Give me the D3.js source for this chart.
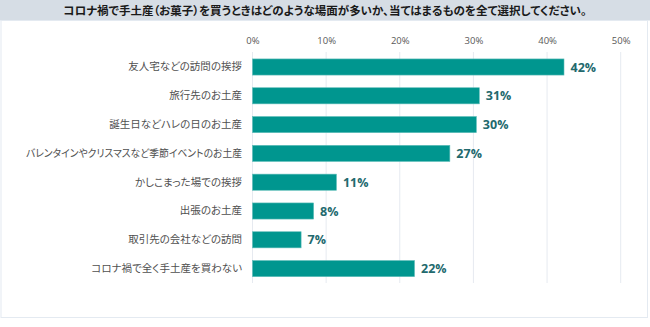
<!DOCTYPE html>
<html><head><meta charset="utf-8">
<script src="https://cdn.jsdelivr.net/npm/d3@7"></script>
<style>
html,body{margin:0;padding:0;background:#fff;}
svg{display:block;}
.cjk{font-family:"Noto Sans CJK JP","Noto Sans",sans-serif;font-feature-settings:"palt";}
</style></head>
<body>
<script>
const title = "コロナ禍で手土産（お菓子）を買うときはどのような場面が多いか、当てはまるものを全て選択してください。";
const categories = ["友人宅などの訪問の挨拶","旅行先のお土産","誕生日などハレの日のお土産","バレンタインやクリスマスなど季節イベントのお土産","かしこまった場での挨拶","出張のお土産","取引先の会社などの訪問","コロナ禍で全く手土産を買わない"];
const values = [42.3, 30.8, 30.4, 26.8, 11.4, 8.3, 6.6, 22.0];
const valueLabels = ["42%","31%","30%","27%","11%","8%","7%","22%"];
const ticks = [0,10,20,30,40,50];

const W=650,H=327;
const svg=d3.select("body").append("svg").attr("width",W).attr("height",H);

// title bar
svg.append("rect").attr("x",0).attr("y",0).attr("width",W).attr("height",20.5).attr("fill","#d6dde5");
svg.append("text").attr("class","cjk").attr("x",325).attr("y",14.5).attr("text-anchor","middle")
  .attr("font-size",11.5).attr("font-weight",700).attr("fill","#1a1a1a").text(title);

// chart border
svg.append("rect").attr("x",1).attr("y",20.5).attr("width",646.5).attr("height",297).attr("fill","none")
  .attr("stroke","#e4eaf1").attr("stroke-width",1);

const x=d3.scaleLinear().domain([0,50]).range([252.5,620.7]);
const y=d3.scaleBand().domain(categories).range([52.6,283]).paddingInner(0.44).paddingOuter(0.22);

// gridlines
svg.append("g").selectAll("line").data(ticks).join("line")
  .attr("x1",d=>x(d)).attr("x2",d=>x(d)).attr("y1",52).attr("y2",283)
  .attr("stroke","#e6eaf0").attr("stroke-width",1);

// top axis labels
const ax=svg.append("g").attr("transform","translate(0,44)")
  .call(d3.axisTop(x).tickValues(ticks).tickFormat(d=>d+"%").tickSize(0).tickPadding(0));
ax.select(".domain").remove();
ax.selectAll("text").attr("font-family","'Open Sans','DejaVu Sans',sans-serif").attr("font-size",9.5).attr("fill","#595959");

// category labels
const ay=svg.append("g").attr("transform","translate(242,0)")
  .call(d3.axisLeft(y).tickSize(0).tickPadding(0));
ay.select(".domain").remove();
ay.selectAll("text").attr("class","cjk").attr("font-size",10.5).attr("fill","#505050").attr("font-family",null)
  .each(function(){
    const w=this.getComputedTextLength();
    if(w>216){ d3.select(this).attr("textLength",216).attr("lengthAdjust","spacingAndGlyphs"); }
  });

// bars
svg.append("g").selectAll("rect").data(values).join("rect")
  .attr("x",x(0)).attr("y",(d,i)=>y(categories[i])).attr("width",d=>x(d)-x(0)).attr("height",y.bandwidth())
  .attr("fill","#00968f").attr("stroke","#5fbdb9").attr("stroke-width",0.6);

// value labels
svg.append("g").selectAll("text").data(values).join("text")
  .attr("x",d=>x(d)+6.5).attr("y",(d,i)=>y(categories[i])+y.bandwidth()/2).attr("dy","0.36em")
  .attr("font-family","'Open Sans','DejaVu Sans',sans-serif").attr("font-weight",700).attr("font-size",12.5)
  .attr("fill","#22696d").text((d,i)=>valueLabels[i]);
</script>
</body></html>
